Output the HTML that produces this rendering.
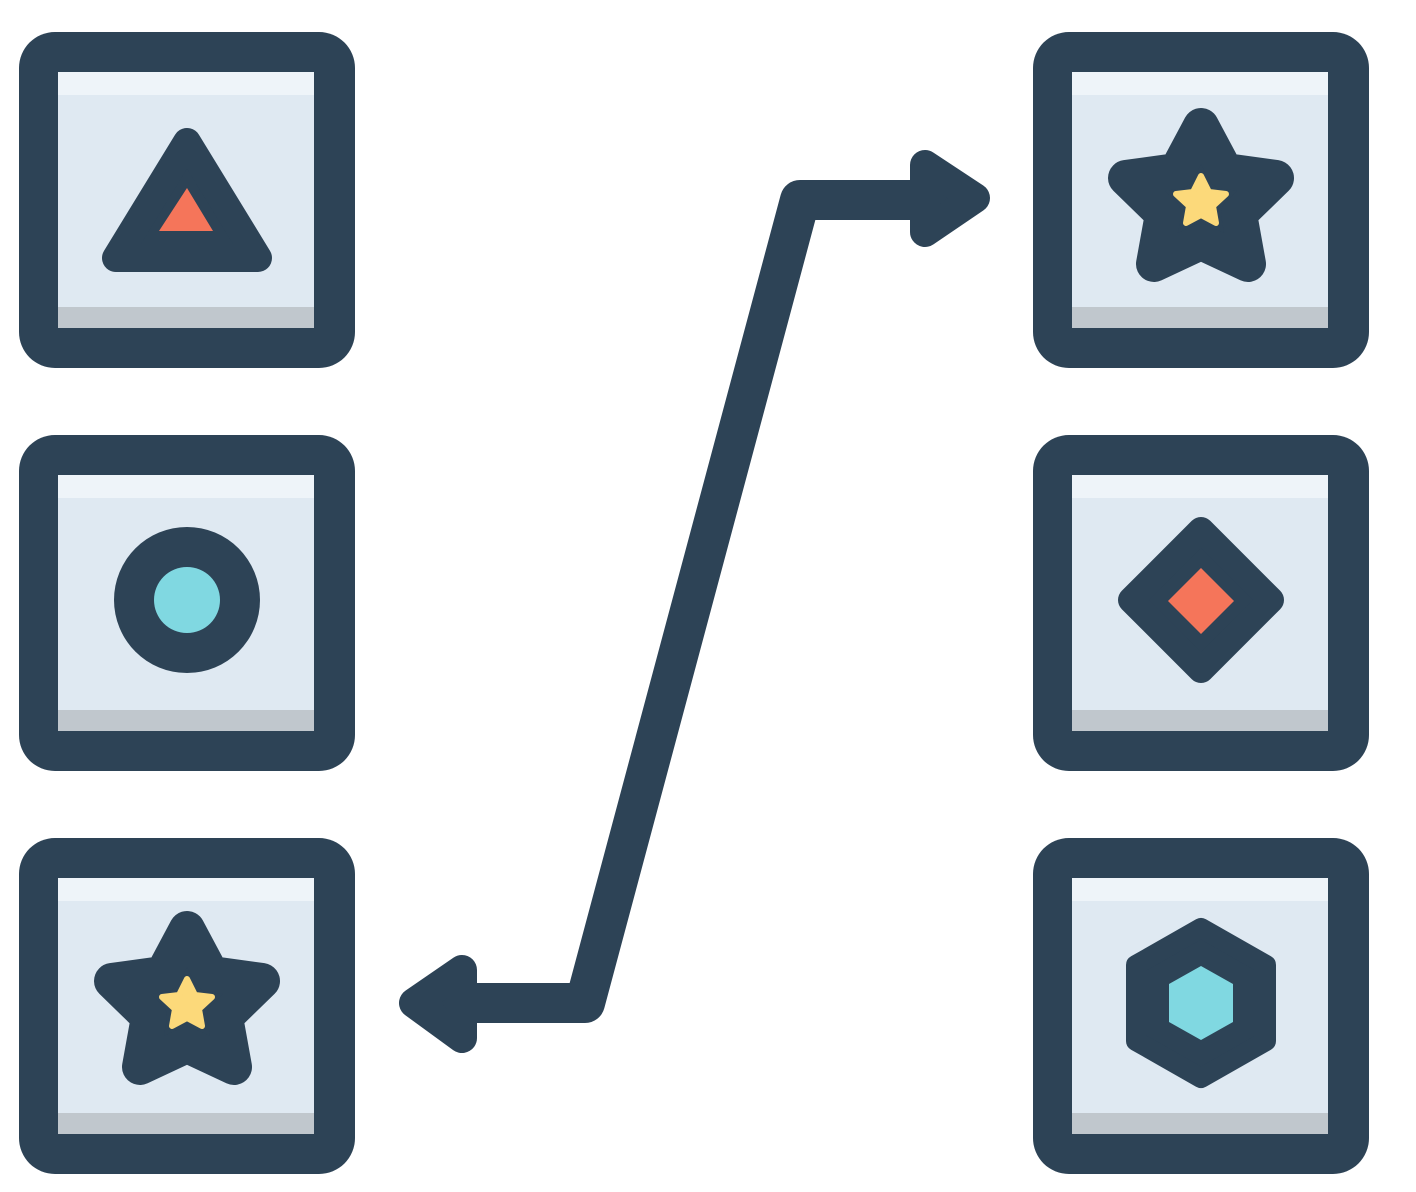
<!DOCTYPE html>
<html><head><style>html,body{margin:0;padding:0;background:#fff}svg{display:block}</style></head><body>
<svg width="1416" height="1192" viewBox="0 0 1416 1192" xmlns="http://www.w3.org/2000/svg">
<defs>
<g id="box">
<rect x="19" y="32" width="336" height="336" rx="36" fill="#2d4356"/>
<rect x="58" y="72" width="256" height="256" fill="#dfe9f2"/>
<rect x="58" y="72" width="256" height="23" fill="#eef4f9"/>
<rect x="58" y="307" width="256" height="21" fill="#c0c7cd"/>
</g>
</defs>
<use href="#box"/>
<use href="#box" y="403"/>
<use href="#box" y="806"/>
<use href="#box" x="1014"/>
<use href="#box" x="1014" y="403"/>
<use href="#box" x="1014" y="806"/>
<!-- triangle -->
<path d="M187,142 L116,258 L258,258 Z" fill="#2d4356" stroke="#2d4356" stroke-width="28" stroke-linejoin="round"/>
<path d="M187,188 L159,231 L213,231 Z" fill="#f5755a"/>
<!-- circle -->
<circle cx="187" cy="600" r="73" fill="#2d4356"/>
<circle cx="187" cy="600" r="33" fill="#80d8e1"/>
<!-- stars -->
<g id="star" transform="translate(187,1005)">
<path d="M0,-76 L24,-31 L75,-24 L38,12 L47,62 L0,40 L-47,62 L-38,12 L-75,-24 L-24,-31 Z" fill="#2d4356" stroke="#2d4356" stroke-width="36" stroke-linejoin="round"/>
<path d="M0,-26 L8,-10 L25,-8 L12,4 L15,21 L0,13 L-15,21 L-12,4 L-25,-8 L-8,-10 Z" fill="#fcd97a" stroke="#fcd97a" stroke-width="6" stroke-linejoin="round"/>
</g>
<use href="#star" x="1014" y="-803"/>
<!-- diamond -->
<path d="M1201,530 L1271,600 L1201,670 L1131,600 Z" fill="#2d4356" stroke="#2d4356" stroke-width="26" stroke-linejoin="round"/>
<path d="M1201,568 L1234,601 L1201,634 L1168,601 Z" fill="#f5755a"/>
<!-- hexagon -->
<path d="M1201,928 L1266,965 L1266,1041 L1201,1078 L1136,1041 L1136,965 Z" fill="#2d4356" stroke="#2d4356" stroke-width="20" stroke-linejoin="round"/>
<path d="M1201,966 L1233,984 L1233,1022 L1201,1040 L1169,1022 L1169,984 Z" fill="#80d8e1"/>
<!-- connector -->
<path d="M450,1003 L585,1003 L800,200 L930,200" fill="none" stroke="#2d4356" stroke-width="40" stroke-linejoin="round"/>
<path d="M925,165 L975,198 L925,232 Z" fill="#2d4356" stroke="#2d4356" stroke-width="30" stroke-linejoin="round"/>
<path d="M462,970 L414,1003 L462,1038 Z" fill="#2d4356" stroke="#2d4356" stroke-width="30" stroke-linejoin="round"/>
</svg>
</body></html>
